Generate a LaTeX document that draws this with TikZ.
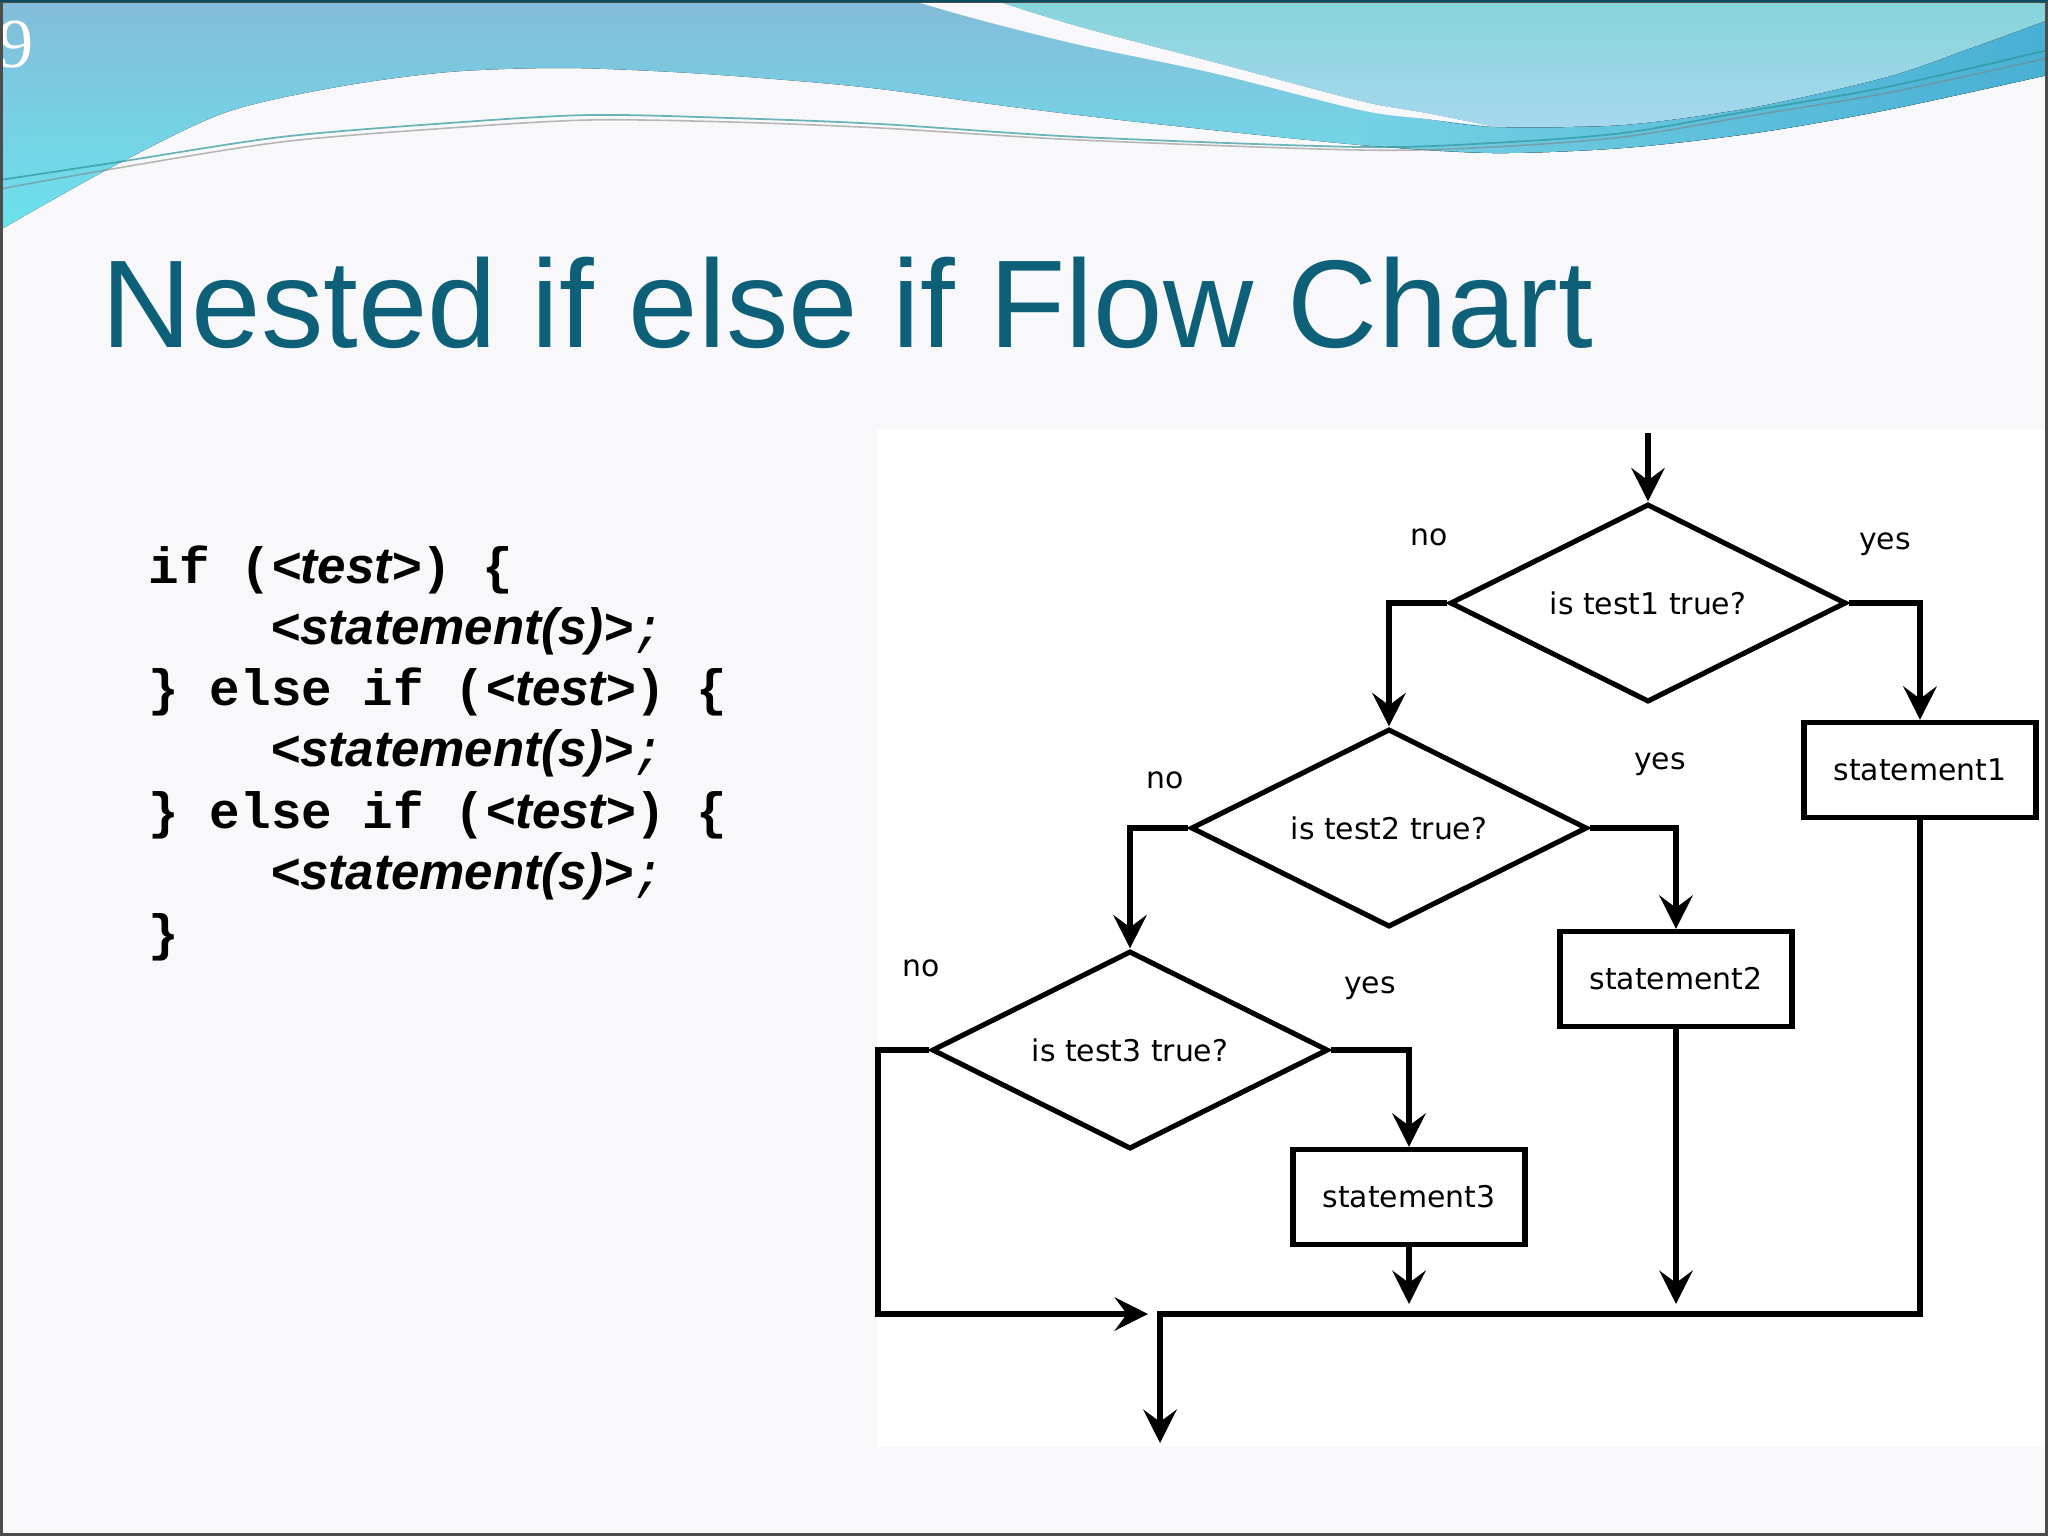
\documentclass[tikz,border=0pt]{standalone}
\usepackage{fontspec}
\setmainfont{Liberation Sans}
\newfontfamily\monofont{Liberation Mono}
\newfontfamily\chartfont{DejaVu Sans}
\newfontfamily\numberfont{Liberation Serif}
\usetikzlibrary{shapes.geometric,arrows.meta}

\definecolor{titleteal}{RGB}{14,96,121}
\definecolor{slidebg}{RGB}{248,248,250}
\definecolor{waveblue}{RGB}{132,188,216}
\definecolor{wavecyan}{RGB}{106,226,238}
\definecolor{aquatop}{RGB}{134,212,218}
\definecolor{aquabot}{RGB}{166,216,238}
\definecolor{bandcyan}{RGB}{117,209,228}
\definecolor{bandblue}{RGB}{72,176,212}
\definecolor{swirlteal}{RGB}{46,150,155}

\newcommand{\codeph}[1]{{\normalfont\bfseries\itshape #1}}
\newcommand{\semi}{{\monofont\mdseries\itshape ;}}

\begin{document}
\begin{tikzpicture}
  [x=0.01cm,y=-0.01cm,line join=miter,
   >={Stealth[length=9.5pt,width=9.5pt,inset=3.5pt]},
   decision/.style={draw,shape=diamond,aspect=2,minimum width=3.96cm,minimum height=1.98cm,inner sep=0,line width=1.45pt,font=\chartfont\fontsize{8.5pt}{10pt}\selectfont},
   stmtbox/.style={draw,rectangle,minimum width=2.32cm,minimum height=0.95cm,inner sep=0,line width=1.5pt,font=\chartfont\fontsize{8.5pt}{10pt}\selectfont},
   lbl/.style={inner sep=0,font=\chartfont\fontsize{8.5pt}{10pt}\selectfont},
   codeline/.style={anchor=base west,inner sep=0,font=\monofont\bfseries\fontsize{14.5pt}{17pt}\selectfont},
   flow/.style={->,line width=1.45pt}]

  % slide
  \clip (0,0) rectangle (2048,1536);
  \fill[slidebg] (0,0) rectangle (2048,1536);

  % top waves
  \fill[top color=waveblue,bottom color=wavecyan] (0,0) -- (2048,0) -- (2048,75)
    -- plot[smooth] coordinates {(2048,75) (1887,110) (1755,133) (1623,148) (1492,153) (1360,145) (1147,123) (1013,107) (880,89) (786,80) (673,72) (561,68) (449,72) (337,87) (224,113) (112,167) (0,230)} -- cycle;
  \fill[left color=bandcyan,right color=bandblue] (1360,110)
    -- plot[smooth] coordinates {(1360,110) (1426,119) (1495,127) (1623,125) (1755,107) (1887,77) (1974,47) (2048,20)} -- (2048,75)
    -- plot[smooth] coordinates {(2048,75) (1887,110) (1755,133) (1623,148) (1492,153) (1360,145)} -- cycle;
  \fill[top color=aquatop,bottom color=aquabot] (993,0)
    -- plot[smooth] coordinates {(993,0) (1080,27) (1213,62) (1360,101) (1426,113) (1495,127)}
    -- plot[smooth] coordinates {(1495,127) (1623,125) (1755,107) (1887,77) (1974,47) (2048,20)} -- (2048,0) -- cycle;
  \fill[slidebg] (910,0)
    -- plot[smooth] coordinates {(910,0) (980,20) (1080,45) (1213,73) (1360,110) (1426,119) (1495,127)}
    -- plot[smooth] coordinates {(1495,127) (1426,113) (1360,101) (1213,62) (1080,27) (993,0)} -- cycle;
  \draw[swirlteal,line width=0.5pt,opacity=0.7] plot[smooth] coordinates {(0,180) (112,163) (281,137) (449,123) (589,115) (730,118) (880,124) (1080,137) (1360,147) (1492,143) (1623,133) (1755,110) (1887,87) (2048,50)};
  \draw[gray,line width=0.45pt,opacity=0.55] plot[smooth] coordinates {(0,189) (112,169) (281,142) (449,128) (589,120) (730,122) (880,128) (1080,140) (1360,150) (1492,147) (1623,137) (1755,115) (1887,93) (2048,58)};
  \node[anchor=base west,inner sep=0,text=white,font=\numberfont\fontsize{20pt}{20pt}\selectfont] (pagenum) at (-2,67) {9};

  % title and code
  \node[anchor=base west,inner sep=0,text=titleteal,font=\fontsize{35.5pt}{40pt}\selectfont] (title) at (101,347) {Nested if else if Flow Chart};
  \node[codeline] (code1) at (148,583) {if (\codeph{<test>}) \{};
  \node[codeline] (code2) at (270,644) {\codeph{<statement(s)>}\semi};
  \node[codeline] (code3) at (148,705) {\} else if (\codeph{<test>}) \{};
  \node[codeline] (code4) at (270,766) {\codeph{<statement(s)>}\semi};
  \node[codeline] (code5) at (148,828) {\} else if (\codeph{<test>}) \{};
  \node[codeline] (code6) at (270,889) {\codeph{<statement(s)>}\semi};
  \node[codeline] (code7) at (148,950) {\}};

  % flow chart
  \fill[white] (877,430) rectangle (2048,1447);
  \node[decision] (d1) at (1648,603) {is test1 true?};
  \node[decision] (d2) at (1389,828) {is test2 true?};
  \node[decision] (d3) at (1130,1050) {is test3 true?};
  \node[stmtbox] (s1) at (1920,770) {statement1};
  \node[stmtbox] (s2) at (1676,979) {statement2};
  \node[stmtbox] (s3) at (1409,1197) {statement3};

  \node[lbl] (no1) at (1429,537) {no};
  \node[lbl] (yes1) at (1885,544) {yes};
  \node[lbl] (no2) at (1165,780) {no};
  \node[lbl] (yes2) at (1660,764) {yes};
  \node[lbl] (no3) at (921,968) {no};
  \node[lbl] (yes3) at (1370,988) {yes};

  \coordinate (start) at (1648,433);
  \coordinate (e3) at (1409,1304);
  \coordinate (e2) at (1676,1304);
  \coordinate (lc) at (878,1314);
  \coordinate (jin) at (1148,1314);
  \coordinate (jout) at (1160,1314);
  \coordinate (exit) at (1160,1443);

  \draw[flow] (start) -- (d1.north);
  \foreach \from/\to in {d1.west/d2.north,d1.east/s1.north,d2.west/d3.north,d2.east/s2.north,d3.east/s3.north}
    \draw[flow] (\from) -| (\to);
  \draw[flow] (d3.west) -| (lc) -- (jin);
  \draw[flow] (s3.south) -- (e3);
  \draw[flow] (s2.south) -- (e2);
  \draw[flow] (s1.south) |- (jout) -- (exit);

  % frame
  \draw[gray!60!black,line width=1.6pt] (0,0) rectangle (2048,1536);
  \draw[titleteal!80!black,line width=1.4pt] (0,0) -- (2048,0);
\end{tikzpicture}
\end{document}
